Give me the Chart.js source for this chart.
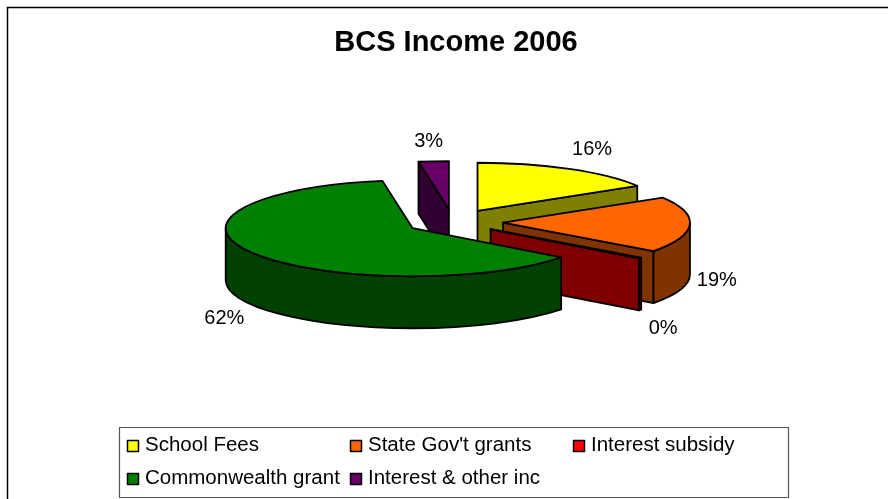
<!DOCTYPE html>
<html>
<head>
<meta charset="utf-8">
<title>BCS Income 2006</title>
<script src="https://cdn.jsdelivr.net/npm/chart.js@4/dist/chart.umd.min.js"></script>
<style>
    html, body { margin: 0; padding: 0; background: #fff; }
    canvas { display: block; }
</style>
</head>
<body>
<canvas id="grafica" width="888" height="499"></canvas>
<script>
"use strict";
const categories = ["School Fees", "State Gov't grants", "Interest subsidy", "Commonwealth grant", "Interest & other inc"];
const values = [16.3, 18.8, 0.3, 62.0, 2.6];
const percentLabels = ["16%", "19%", "0%", "62%", "3%"];

const topColors = ["#FFFF00", "#FF6600", "#FF0000", "#008000", "#660066"];
const sideColors = ["#808000", "#803300", "#800000", "#004000", "#330033"];

// back to front
const drawOrder = [0, 4, 1, 2, 3];
const explode = [50, 50, 47, 47, 50];
const labelNudge = [[23, -19], [27, 56], [23, 70], [-28, 66], [-5, -20]];

const pie = { x: 453, y: 222, radius: 187, squash: 0.257, depth: 52, line: 1.8 };
const FONT = '"Liberation Sans", Arial, sans-serif';

function rimPoint(i, arc, angle, r, drop) {
    const mid = (arc.startAngle + arc.endAngle) / 2;
    const ox = pie.x + explode[i] * Math.cos(mid);
    const oy = pie.y + explode[i] * Math.sin(mid) * pie.squash;
    return [ox + r * Math.cos(angle), oy + r * Math.sin(angle) * pie.squash + (drop || 0)];
}

function fillStroke(ctx, color) {
    ctx.fillStyle = color;
    ctx.fill();
    ctx.strokeStyle = "#000";
    ctx.lineWidth = pie.line;
    ctx.lineJoin = "round";
    ctx.stroke();
}

function drawCut(ctx, i, arc, angle) {
    const apex = rimPoint(i, arc, angle, 0);
    const rim = rimPoint(i, arc, angle, arc.outerRadius);
    ctx.beginPath();
    ctx.moveTo(apex[0], apex[1]);
    ctx.lineTo(rim[0], rim[1]);
    ctx.lineTo(rim[0], rim[1] + pie.depth);
    ctx.lineTo(apex[0], apex[1] + pie.depth);
    ctx.closePath();
    fillStroke(ctx, sideColors[i]);
}

function drawWall(ctx, i, arc) {
    const lo = Math.max(arc.startAngle, 0);
    const hi = Math.min(arc.endAngle, Math.PI);
    if (hi <= lo) return;
    const c = rimPoint(i, arc, 0, 0);
    const ry = arc.outerRadius * pie.squash;
    ctx.beginPath();
    ctx.ellipse(c[0], c[1], arc.outerRadius, ry, 0, lo, hi);
    ctx.ellipse(c[0], c[1] + pie.depth, arc.outerRadius, ry, 0, hi, lo, true);
    ctx.closePath();
    fillStroke(ctx, sideColors[i]);
}

function drawTop(ctx, i, arc) {
    const c = rimPoint(i, arc, 0, 0);
    ctx.save();
    ctx.translate(c[0], c[1]);
    ctx.scale(1, pie.squash);
    ctx.translate(-arc.x, -arc.y);
    arc.draw(ctx);
    ctx.restore();

    ctx.beginPath();
    ctx.moveTo(c[0], c[1]);
    ctx.ellipse(c[0], c[1], arc.outerRadius, arc.outerRadius * pie.squash, 0, arc.startAngle, arc.endAngle);
    ctx.closePath();
    ctx.strokeStyle = "#000";
    ctx.lineWidth = pie.line;
    ctx.lineJoin = "round";
    ctx.stroke();
}

const pie3d = {
    id: "pie3d",
    beforeDatasetDraw(chart) {
        const ctx = chart.ctx;
        const arcs = chart.getDatasetMeta(0).data;
        drawOrder.forEach((i) => {
            const arc = arcs[i];
            if (Math.cos(arc.endAngle) > 1e-6) drawCut(ctx, i, arc, arc.endAngle);
            if (Math.cos(arc.startAngle) < -1e-6) drawCut(ctx, i, arc, arc.startAngle);
            drawWall(ctx, i, arc);
            drawTop(ctx, i, arc);
        });
        return false;
    },
    afterDraw(chart) {
        const ctx = chart.ctx;
        const arcs = chart.getDatasetMeta(0).data;
        ctx.save();
        ctx.fillStyle = "#000";
        ctx.font = "20px " + FONT;
        ctx.textAlign = "center";
        ctx.textBaseline = "middle";
        arcs.forEach((arc, i) => {
            const mid = (arc.startAngle + arc.endAngle) / 2;
            const p = rimPoint(i, arc, mid, arc.outerRadius);
            ctx.fillText(percentLabels[i], p[0] + labelNudge[i][0], p[1] + labelNudge[i][1]);
        });
        ctx.restore();
    },
};

// chart frame and the boxed two-row legend
const frameLegend = {
    id: "frameLegend",
    beforeDraw(chart) {
        const ctx = chart.ctx;
        ctx.save();
        ctx.strokeStyle = "#000";
        ctx.lineWidth = 1.5;
        ctx.beginPath();
        ctx.moveTo(7.5, 499);
        ctx.lineTo(7.5, 7.5);
        ctx.lineTo(888, 7.5);
        ctx.stroke();
        ctx.restore();
    },
    afterDraw(chart) {
        const ctx = chart.ctx;
        ctx.save();
        ctx.strokeStyle = "#555";
        ctx.lineWidth = 1.2;
        ctx.strokeRect(119.5, 427.5, 669, 70);
        ctx.font = "20.5px " + FONT;
        ctx.textBaseline = "middle";
        categories.forEach((name, i) => {
            const col = i % 3;
            const row = Math.floor(i / 3);
            const x = 127.5 + col * 223;
            const y = 440.5 + row * 33;
            ctx.fillStyle = topColors[i];
            ctx.fillRect(x, y, 11, 11);
            ctx.strokeStyle = "#000";
            ctx.lineWidth = 1.5;
            ctx.strokeRect(x, y, 11, 11);
            ctx.fillStyle = "#000";
            ctx.fillText(name, x + 17.5, y + 5);
        });
        ctx.restore();
    },
};

new Chart(document.querySelector("#grafica"), {
    type: "pie",
    data: {
        labels: categories,
        datasets: [{
            data: values,
            backgroundColor: topColors,
            borderWidth: 0,
            radius: pie.radius,
        }],
    },
    options: {
        responsive: false,
        animation: false,
        events: [],
        layout: { padding: { left: 24 } },
        plugins: {
            legend: { display: false },
            tooltip: { enabled: false },
            title: {
                display: true,
                text: "BCS Income 2006",
                color: "#000",
                font: { family: FONT, size: 29, weight: "bold" },
                padding: { top: 26, bottom: 8 },
            },
        },
    },
    plugins: [frameLegend, pie3d],
});
</script>
</body>
</html>
